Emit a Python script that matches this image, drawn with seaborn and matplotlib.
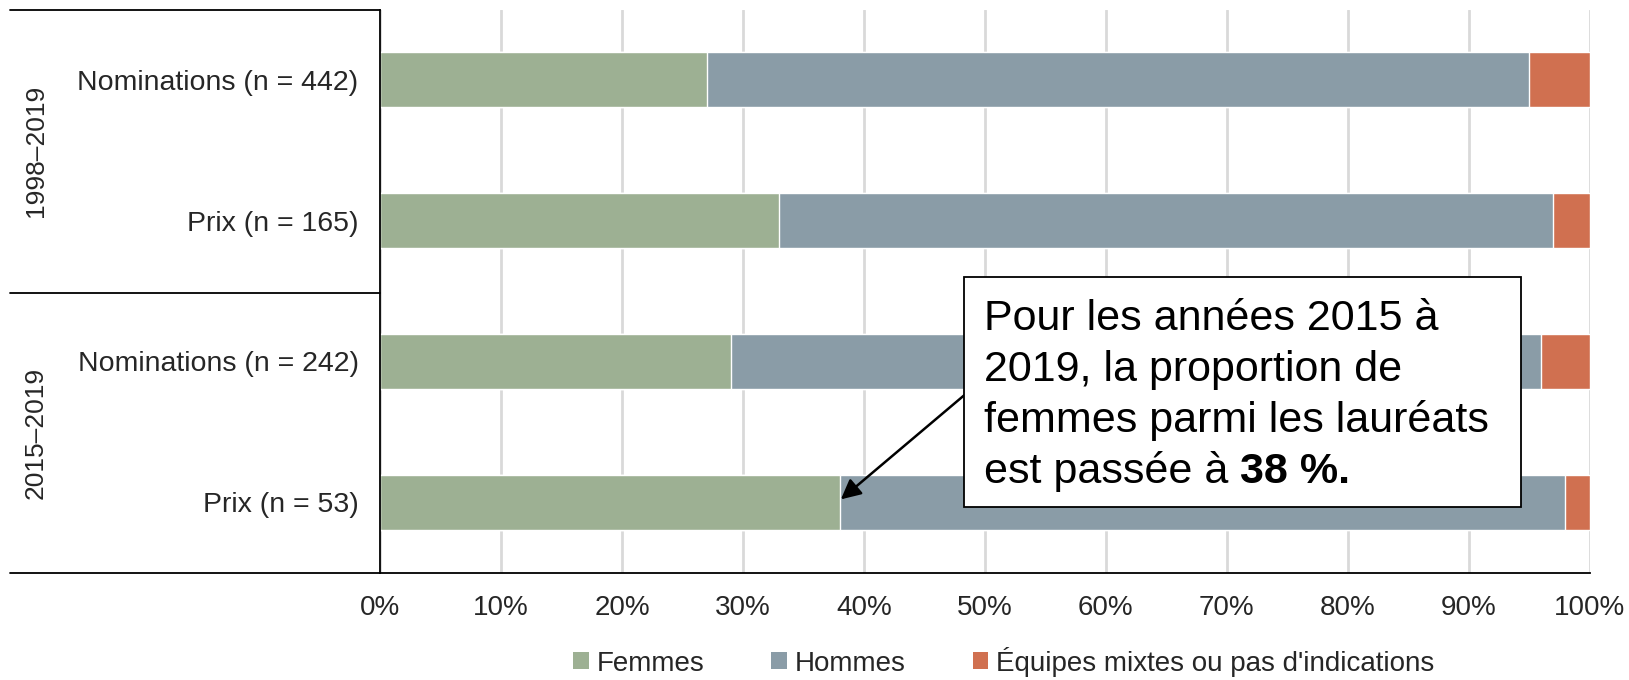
import matplotlib
matplotlib.use("Agg")
import matplotlib.pyplot as plt
from matplotlib.lines import Line2D
from matplotlib.patches import Rectangle, Patch
import seaborn as sns
import pandas as pd

# Values (percent of each row)
categories = ["Nominations (n = 442)", "Prix (n = 165)",
              "Nominations (n = 242)", "Prix (n = 53)"]
periods = ["1998–2019", "2015–2019"]
femmes = [27, 33, 29, 38]
hommes = [68, 64, 67, 60]
mixtes = [5, 3, 4, 2]
series_labels = ["Femmes", "Hommes", "Équipes mixtes ou pas d'indications"]
x_ticks = [0, 10, 20, 30, 40, 50, 60, 70, 80, 90, 100]
note_lines = ["Pour les années 2015 à", "2019, la proportion de",
              "femmes parmi les lauréats", "est passée à"]
note_bold = "38 %."

C_FEMMES = "#9db093"
C_HOMMES = "#8a9ca7"
C_MIXTES = "#d07050"


def main():
    sns.set_style("white")
    plt.rcParams["font.family"] = ["Liberation Sans", "DejaVu Sans"]

    df = pd.DataFrame({"cat": categories, "femmes": femmes,
                       "hommes": hommes, "mixtes": mixtes})
    df["fh"] = df["femmes"] + df["hommes"]
    df["total"] = df["fh"] + df["mixtes"]

    fig = plt.figure(figsize=(16.29, 6.80), dpi=100)
    ax = fig.add_axes([0.2333, 0.158, 0.7425, 0.828])

    # stacked bars = cumulative bars drawn back to front
    for col, color in [("total", C_MIXTES), ("fh", C_HOMMES), ("femmes", C_FEMMES)]:
        sns.barplot(data=df, x=col, y="cat", order=categories, orient="h",
                    color=color, saturation=1, width=0.39, errorbar=None,
                    ax=ax, zorder=2)

    ax.set_xlim(0, 100)
    ax.set_ylim(3.5, -0.5)
    ax.set_xlabel("")
    ax.set_ylabel("")
    ax.set_xticks(x_ticks)
    ax.set_xticklabels([f"{v}%" for v in x_ticks], fontsize=20)
    ax.tick_params(axis="x", length=0, pad=16)
    ax.tick_params(axis="y", length=0, pad=15.5, labelsize=20.5)
    ax.set_axisbelow(True)
    ax.xaxis.grid(True, color="#d9d9d9", lw=2)
    ax.yaxis.grid(False)
    for s in ["top", "right"]:
        ax.spines[s].set_visible(False)
    for s in ["left", "bottom"]:
        ax.spines[s].set_color("black")
        ax.spines[s].set_linewidth(1.3)

    # group brackets on the left
    x0, x1 = 0.0064, 0.2333
    for yy in [0.986, 0.569, 0.158]:
        fig.add_artist(Line2D([x0, x1], [yy, yy], color="black", lw=1.3))
    fig.text(0.022, 0.778, periods[0], rotation=90, ha="center", va="center", fontsize=19)
    fig.text(0.022, 0.363, periods[1], rotation=90, ha="center", va="center", fontsize=19)

    # callout box
    ax.add_patch(Rectangle((48.3, 1.40), 46.0, 1.634, facecolor="white",
                           edgecolor="black", lw=1.3, zorder=5))
    ax.annotate("", xy=(38.1, 2.98), xytext=(48.3, 2.24),
                arrowprops=dict(arrowstyle="-|>", color="black", lw=1.8,
                                mutation_scale=30, shrinkA=0, shrinkB=0),
                zorder=4)
    baselines = [1.777, 2.139, 2.501, 2.864]
    last = None
    for line, yb in zip(note_lines, baselines):
        last = ax.text(49.9, yb, line, ha="left", va="baseline", fontsize=31,
                       color="black", zorder=6)
    ax.annotate(note_bold, xy=(1, 0), xycoords=last, xytext=(8.6, 0),
                textcoords="offset points", ha="left", va="bottom",
                fontsize=31, fontweight="bold", color="black", zorder=6)

    handles = [Patch(facecolor=c, edgecolor="none") for c in [C_FEMMES, C_HOMMES, C_MIXTES]]
    fig.legend(handles, series_labels, loc="center", bbox_to_anchor=(0.6163, 0.027),
               ncol=3, frameon=False, fontsize=20, handlelength=0.55,
               handleheight=0.55, handletextpad=0.3, columnspacing=2.4)

    fig.savefig("out.png", dpi=100)


if __name__ == "__main__":
    main()
